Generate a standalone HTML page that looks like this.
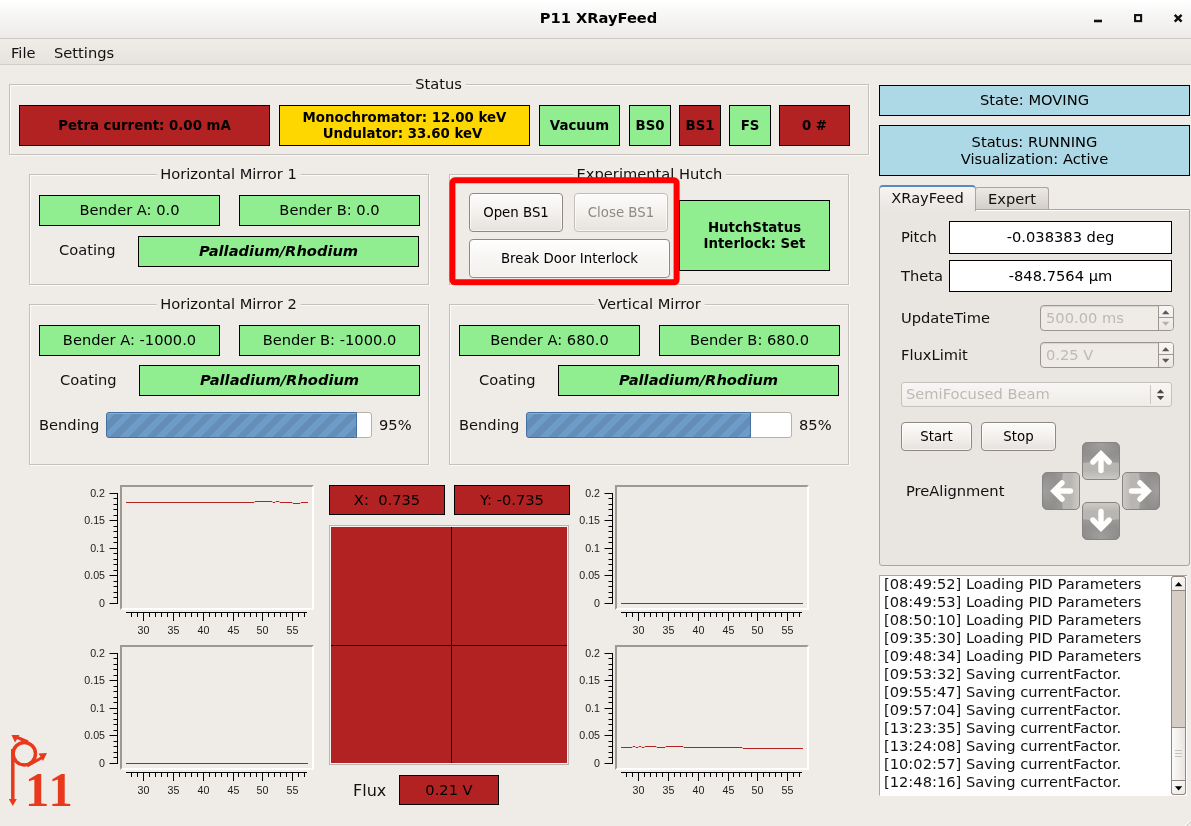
<!DOCTYPE html><html><head><meta charset='utf-8'><title>P11 XRayFeed</title><style>
*{box-sizing:border-box;margin:0;padding:0}
html,body{width:1191px;height:826px;overflow:hidden;background:#efebe7}
body{position:relative;font-family:"DejaVu Sans","Liberation Sans",sans-serif;font-size:14.67px;color:#111;}
.a{position:absolute}
.c{display:flex;align-items:center;justify-content:center;text-align:center;white-space:nowrap}
.box{position:absolute;border:1px solid #000;display:flex;align-items:center;justify-content:center;text-align:center;white-space:nowrap;color:#000;padding-bottom:2px}
.g{background:#90ee90}.r{background:#b22222}.y{background:#ffd700}.b{background:#add8e6}
.bold{font-weight:bold;font-size:13.33px;line-height:16px;padding-bottom:0}
.bi{font-weight:bold;font-style:italic}
.grp{position:absolute;border:1px solid #c4c0bb;box-shadow:inset 1px 1px 0 #fbfaf9, 1px 1px 0 #fbfaf9}
.gt{position:absolute;background:#efebe7;padding:0 4px;white-space:nowrap;line-height:18px;height:18px;transform:translateX(-50%)}
.lbl{position:absolute;white-space:nowrap;line-height:18px;height:18px}
.btn{position:absolute;color:#000;border:1px solid #8f8880;border-radius:4px;background:linear-gradient(#fdfcfb,#f3f0ed 50%,#e6e2de);display:flex;align-items:center;justify-content:center;font-size:13.33px;white-space:nowrap;box-shadow:inset 0 0 0 1px rgba(255,255,255,.6)}
.btn.dis{color:#8e8a85;border-color:#c3beb8}
.plot{position:absolute;border-style:solid;border-width:2px;border-color:#9c9995 #fff #fff #9c9995}
.log{position:absolute;white-space:pre;line-height:18px;font-size:14.67px}
</style></head><body>
<div class='a' style='left:0;top:0;width:1191px;height:39px;background:linear-gradient(#ffffff,#f6f5f4 45%,#edebe9);border-bottom:1px solid #cdc9c5'></div>
<div class='a c' style='left:0;top:0;width:1197px;height:34px;font-weight:bold;font-size:14.67px;color:#000'>P11 XRayFeed</div>
<svg class='a' style='left:1085px;top:5px' width='106' height='28' viewBox='1085 5 106 28'><rect x='1094' y='19.7' width='8' height='2.6' fill='#111'/><rect x='1135.1' y='15.1' width='6' height='6' fill='none' stroke='#111' stroke-width='2.1'/><path d='M1174.7 14.9L1181.6 21.6M1181.6 14.9L1174.7 21.6' stroke='#111' stroke-width='2.5' fill='none'/></svg>
<div class='a' style='left:0;top:39px;width:1191px;height:26px;background:linear-gradient(#f0ede9,#e6e2de);border-bottom:1px solid #d1cdc8'></div>
<div class='lbl' style='left:11px;top:44px'>File</div>
<div class='lbl' style='left:54px;top:44px'>Settings</div>
<div class='grp' style='left:9px;top:84px;width:860px;height:71px'></div>
<div class='gt' style='left:438.5px;top:75px'>Status</div>
<div class='grp' style='left:29px;top:174px;width:400px;height:111px'></div>
<div class='gt' style='left:228.5px;top:165px'>Horizontal Mirror 1</div>
<div class='grp' style='left:449px;top:174px;width:400px;height:111px'></div>
<div class='gt' style='left:649.5px;top:165px'>Experimental Hutch</div>
<div class='grp' style='left:29px;top:304px;width:400px;height:161px'></div>
<div class='gt' style='left:228.5px;top:295px'>Horizontal Mirror 2</div>
<div class='grp' style='left:449px;top:304px;width:400px;height:161px'></div>
<div class='gt' style='left:649.5px;top:295px'>Vertical Mirror</div>
<div class='box r bold' style='left:19px;top:105px;width:251px;height:41px;'><div>Petra current: 0.00 mA</div></div>
<div class='box y bold' style='left:279px;top:105px;width:251px;height:41px;'><div>Monochromator: 12.00 keV<br><span style='position:relative;left:-2px'>Undulator: 33.60 keV</span></div></div>
<div class='box g bold' style='left:539px;top:105px;width:81px;height:41px;'><div>Vacuum</div></div>
<div class='box g bold' style='left:629px;top:105px;width:42px;height:41px;'><div>BS0</div></div>
<div class='box r bold' style='left:679px;top:105px;width:42px;height:41px;'><div>BS1</div></div>
<div class='box g bold' style='left:729px;top:105px;width:42px;height:41px;'><div>FS</div></div>
<div class='box r bold' style='left:779px;top:105px;width:71px;height:41px;'><div>0 #</div></div>
<div class='box g' style='left:39px;top:195px;width:181px;height:31px;'><div>Bender A: 0.0</div></div>
<div class='box g' style='left:239px;top:195px;width:181px;height:31px;'><div>Bender B: 0.0</div></div>
<div class='lbl' style='left:59px;top:241px'>Coating</div>
<div class='box g bi' style='left:138px;top:236px;width:281px;height:31px;'><div>Palladium/Rhodium</div></div>
<div class='box g bold' style='left:679px;top:200px;width:151px;height:71px;'><div>HutchStatus<br>Interlock: Set</div></div>
<svg class='a' style='left:440px;top:170px' width='250' height='125' viewBox='440 170 250 125'><rect x='452.4' y='180.3' width='224.2' height='102' rx='2.5' fill='none' stroke='#ff0000' stroke-width='6'/></svg>
<div class='btn' style='left:469px;top:193px;width:94px;height:39px'>Open BS1</div>
<div class='btn dis' style='left:574px;top:193px;width:94px;height:39px'>Close BS1</div>
<div class='btn' style='left:469px;top:239px;width:201px;height:39px;background:linear-gradient(#fefefd,#f8f6f4 50%,#f3f0ed)'>Break Door Interlock</div>
<div class='box g' style='left:39px;top:325px;width:181px;height:31px;'><div>Bender A: -1000.0</div></div>
<div class='box g' style='left:239px;top:325px;width:181px;height:31px;'><div>Bender B: -1000.0</div></div>
<div class='lbl' style='left:60px;top:371px'>Coating</div>
<div class='box g bi' style='left:139px;top:365px;width:281px;height:31px;'><div>Palladium/Rhodium</div></div>
<div class='lbl' style='left:39px;top:416px'>Bending</div>
<div class='a' style='left:106px;top:412px;width:266px;height:26px;border:1px solid #b8b2aa;border-radius:3px;background:#fff'></div>
<div class='a' style='left:106px;top:412px;width:251px;height:26px;border:1px solid #44709f;border-radius:3px 0 0 3px;box-shadow:inset 0 1px 0 #86aed6;background:repeating-linear-gradient(135deg,#6d9cc9 0 6.36px,#648eb7 6.36px 12.73px)'></div>
<div class='lbl' style='left:379px;top:416px'>95%</div>
<div class='box g' style='left:459px;top:325px;width:181px;height:31px;'><div>Bender A: 680.0</div></div>
<div class='box g' style='left:659px;top:325px;width:181px;height:31px;'><div>Bender B: 680.0</div></div>
<div class='lbl' style='left:479px;top:371px'>Coating</div>
<div class='box g bi' style='left:558px;top:365px;width:281px;height:31px;'><div>Palladium/Rhodium</div></div>
<div class='lbl' style='left:459px;top:416px'>Bending</div>
<div class='a' style='left:526px;top:412px;width:266px;height:26px;border:1px solid #b8b2aa;border-radius:3px;background:#fff'></div>
<div class='a' style='left:526px;top:412px;width:225px;height:26px;border:1px solid #44709f;border-radius:3px 0 0 3px;box-shadow:inset 0 1px 0 #86aed6;background:repeating-linear-gradient(135deg,#6d9cc9 0 6.36px,#648eb7 6.36px 12.73px)'></div>
<div class='lbl' style='left:799px;top:416px'>85%</div>
<div class='box b' style='left:879px;top:85px;width:311px;height:31px;'><div>State: MOVING</div></div>
<div class='box b' style='left:879px;top:125px;width:311px;height:51px;line-height:17px'><div>Status: RUNNING<br>Visualization: Active</div></div>
<div class='a' style='left:879px;top:209px;width:311px;height:357px;border:1px solid #aaa59f;border-radius:0 0 3px 3px;background:#e9e5e1;box-shadow:inset 0 1px 0 #fff'></div>
<div class='a c' style='left:975px;top:187px;width:74px;height:22px;padding-bottom:1px;border:1px solid #aaa59f;border-bottom:none;border-radius:3px 3px 0 0;background:linear-gradient(#ece9e5,#d3cec8)'>Expert</div>
<div class='a c' style='left:879px;top:185px;width:97px;height:26px;padding-bottom:4px;border:1px solid #aaa59f;border-bottom:none;border-top:2px solid #5b89bd;border-radius:4px 4px 0 0;background:linear-gradient(#f6f4f2,#e9e5e1)'>XRayFeed</div>
<div class='lbl' style='left:901px;top:228px'>Pitch</div>
<div class='box ' style='left:949px;top:221px;width:223px;height:33px;background:#fff'><div>-0.038383 deg</div></div>
<div class='lbl' style='left:901px;top:267px'>Theta</div>
<div class='box ' style='left:949px;top:260px;width:223px;height:32px;background:#fff'><div>-848.7564 µm</div></div>
<div class='lbl' style='left:901px;top:309px'>UpdateTime</div>
<div class='lbl' style='left:901px;top:346px'>FluxLimit</div>
<div class='a' style='left:1040px;top:305px;width:134px;height:26px;border:1px solid #9c968e;border-radius:4px;background:#efebe7;color:#bdb9b4;padding-left:5px;line-height:24px;overflow:hidden;box-shadow:inset 0 1px 1px rgba(0,0,0,.10)'>500.00 ms<div style='position:absolute;right:0;top:0;width:15px;height:100%;border-left:1px solid #9c968e;background:linear-gradient(#f8f6f4,#ece8e4)'></div></div>
<svg class='a' style='left:1158px;top:305px' width='16' height='26' viewBox='0 0 16 26'><path d='M1 12.5H15' stroke='#9c968e' fill='none'/><path d='M4 9.2L7.7 5.2L11.4 9.2Z' fill='#5a5652'/><path d='M4 16.8L7.7 20.8L11.4 16.8Z' fill='#b5b1ac'/></svg>
<div class='a' style='left:1040px;top:342px;width:134px;height:26px;border:1px solid #9c968e;border-radius:4px;background:#efebe7;color:#bdb9b4;padding-left:5px;line-height:24px;overflow:hidden;box-shadow:inset 0 1px 1px rgba(0,0,0,.10)'>0.25 V<div style='position:absolute;right:0;top:0;width:15px;height:100%;border-left:1px solid #9c968e;background:linear-gradient(#f8f6f4,#ece8e4)'></div></div>
<svg class='a' style='left:1158px;top:342px' width='16' height='26' viewBox='0 0 16 26'><path d='M1 12.5H15' stroke='#9c968e' fill='none'/><path d='M4 9.2L7.7 5.2L11.4 9.2Z' fill='#5a5652'/><path d='M4 16.8L7.7 20.8L11.4 16.8Z' fill='#5a5652'/></svg>
<div class='a' style='left:901px;top:382px;width:271px;height:25px;border:1px solid #c6c1bb;border-radius:3px;background:linear-gradient(#f8f6f4,#efece8);color:#bdb9b4;padding-left:4px;line-height:21px'>SemiFocused Beam</div>
<svg class='a' style='left:1150px;top:382px' width='22' height='25' viewBox='0 0 22 25'><path d='M0.5 3V22' stroke='#cdc8c2' fill='none'/><path d='M6.8 11.2L10.5 7.3L14.2 11.2Z' fill='#4a4744'/><path d='M6.8 14L10.5 17.9L14.2 14Z' fill='#4a4744'/></svg>
<div class='btn' style='left:901px;top:422px;width:71px;height:29px'>Start</div>
<div class='btn' style='left:981px;top:422px;width:75px;height:29px'>Stop</div>
<div class='lbl' style='left:906px;top:482px'>PreAlignment</div>
<svg width='0' height='0' style='position:absolute'><defs><linearGradient id='agd' x1='0' y1='0' x2='0' y2='1'><stop offset='0' stop-color='#848280'/><stop offset='0.55' stop-color='#9c9a98'/></linearGradient><linearGradient id='agl' x1='0' y1='0' x2='0' y2='1'><stop offset='0.5' stop-color='#b8b6b3'/><stop offset='1' stop-color='#cecbc8'/></linearGradient><radialGradient id='agh' cx='0.5' cy='0.1' r='0.6'><stop offset='0' stop-color='#fff' stop-opacity='0.22'/><stop offset='1' stop-color='#fff' stop-opacity='0'/></radialGradient><clipPath id='acp'><rect x='0.5' y='0.5' width='37' height='37' rx='4.5'/></clipPath></defs></svg>
<svg class='a' style='left:1082px;top:442px' width='38' height='38' viewBox='0 0 38 38'><g transform='rotate(0 19 19)'><g clip-path='url(#acp)'><rect width='38' height='38' fill='url(#agd)'/><rect width='38' height='21' fill='url(#agh)'/><path d='M0 21Q19 18 38 21V38H0Z' fill='url(#agl)'/></g><rect x='0.5' y='0.5' width='37' height='37' rx='4.5' fill='none' stroke='#878583'/><path d='M19 28.5V13M10.9 20L19 11.9L27.1 20' stroke='#fffefc' stroke-width='5.4' fill='none' stroke-linecap='round' stroke-linejoin='miter'/></g></svg>
<svg class='a' style='left:1042px;top:472px' width='38' height='38' viewBox='0 0 38 38'><g transform='rotate(-90 19 19)'><g clip-path='url(#acp)'><rect width='38' height='38' fill='url(#agd)'/><rect width='38' height='21' fill='url(#agh)'/><path d='M0 21Q19 18 38 21V38H0Z' fill='url(#agl)'/></g><rect x='0.5' y='0.5' width='37' height='37' rx='4.5' fill='none' stroke='#878583'/><path d='M19 28.5V13M10.9 20L19 11.9L27.1 20' stroke='#fffefc' stroke-width='5.4' fill='none' stroke-linecap='round' stroke-linejoin='miter'/></g></svg>
<svg class='a' style='left:1122px;top:472px' width='38' height='38' viewBox='0 0 38 38'><g transform='rotate(90 19 19)'><g clip-path='url(#acp)'><rect width='38' height='38' fill='url(#agd)'/><rect width='38' height='21' fill='url(#agh)'/><path d='M0 21Q19 18 38 21V38H0Z' fill='url(#agl)'/></g><rect x='0.5' y='0.5' width='37' height='37' rx='4.5' fill='none' stroke='#878583'/><path d='M19 28.5V13M10.9 20L19 11.9L27.1 20' stroke='#fffefc' stroke-width='5.4' fill='none' stroke-linecap='round' stroke-linejoin='miter'/></g></svg>
<svg class='a' style='left:1082px;top:502px' width='38' height='38' viewBox='0 0 38 38'><g transform='rotate(180 19 19)'><g clip-path='url(#acp)'><rect width='38' height='38' fill='url(#agd)'/><rect width='38' height='21' fill='url(#agh)'/><path d='M0 21Q19 18 38 21V38H0Z' fill='url(#agl)'/></g><rect x='0.5' y='0.5' width='37' height='37' rx='4.5' fill='none' stroke='#878583'/><path d='M19 28.5V13M10.9 20L19 11.9L27.1 20' stroke='#fffefc' stroke-width='5.4' fill='none' stroke-linecap='round' stroke-linejoin='miter'/></g></svg>
<div class='a' style='left:879px;top:575px;width:308px;height:221px;background:#fff;border:1px solid #aaa59f;border-bottom-color:#fff;border-right:none'></div>
<div class='log' style='left:884px;top:575px'>[08:49:52] Loading PID Parameters
[08:49:53] Loading PID Parameters
[08:50:10] Loading PID Parameters
[09:35:30] Loading PID Parameters
[09:48:34] Loading PID Parameters
[09:53:32] Saving currentFactor.
[09:55:47] Saving currentFactor.
[09:57:04] Saving currentFactor.
[13:23:35] Saving currentFactor.
[13:24:08] Saving currentFactor.
[10:02:57] Saving currentFactor.
[12:48:16] Saving currentFactor.</div>
<div class='a' style='left:1171px;top:576px;width:15px;height:219px;background:#d6cec5;border:1px solid #8f8880;border-radius:3px'></div>
<div class='a' style='left:1171px;top:576px;width:15px;height:15px;border:1px solid #8f8880;border-radius:3px 3px 0 0;background:linear-gradient(135deg,#fdfcfb,#ece9e5)'></div>
<div class='a' style='left:1171px;top:780px;width:15px;height:15px;border:1px solid #8f8880;border-radius:0 0 3px 3px;background:linear-gradient(135deg,#fdfcfb,#ece9e5)'></div>
<div class='a' style='left:1171px;top:727px;width:15px;height:54px;border:1px solid #8f8880;background:linear-gradient(90deg,#fbfaf9,#e9e5e1)'></div>
<svg class='a' style='left:1171px;top:576px' width='15' height='219' viewBox='0 0 15 219'><path d='M3.9 10.2L7.6 6L11.3 10.2Z' fill='#000'/><path d='M3.9 210.2L7.6 214.4L11.3 210.2Z' fill='#000'/><path d='M4 174.5H11M4 177.5H11M4 180.5H11' stroke='#c9c2ba'/></svg>
<div class='box r' style='left:329px;top:485px;width:116px;height:30px;'><div>X:&nbsp; 0.735</div></div>
<div class='box r' style='left:454px;top:485px;width:116px;height:30px;'><div>Y: -0.735</div></div>
<div class='a' style='left:329px;top:525px;width:240px;height:240px;border:1px solid #b9b5b0;background:#f5f3f0'></div>
<div class='a r' style='left:331px;top:527px;width:236px;height:236px'></div>
<div class='a' style='left:451px;top:527px;width:1px;height:236px;background:#000'></div>
<div class='a' style='left:331px;top:645px;width:236px;height:1px;background:#000'></div>
<div class='lbl' style='left:353px;top:781px;font-size:16px;line-height:20px;height:20px'>Flux</div>
<div class='box r' style='left:399px;top:775px;width:100px;height:30px;'><div>0.21 V</div></div>
<div class='plot' style='left:120px;top:485px;width:194px;height:125px'></div>
<svg class='a' style='left:70px;top:480px' width='250' height='160' viewBox='0 0 250 160' font-family='"Liberation Sans",sans-serif' font-size='10.67' fill='#1c1c1c'><path d='M47.5 13.0V124.0' stroke='#000' fill='none'/><path d='M39.5 123.5H47.5M43.5 117.5H47.5M43.5 112.5H47.5M43.5 106.5H47.5M43.5 101.5H47.5M39.5 95.5H47.5M43.5 90.5H47.5M43.5 84.5H47.5M43.5 79.5H47.5M43.5 73.5H47.5M39.5 68.5H47.5M43.5 62.5H47.5M43.5 57.5H47.5M43.5 51.5H47.5M43.5 46.5H47.5M39.5 40.5H47.5M43.5 35.5H47.5M43.5 29.5H47.5M43.5 24.5H47.5M43.5 18.5H47.5M39.5 13.5H47.5' stroke='#000' fill='none'/><text x='35' y='127.3' text-anchor='end'>0</text><text x='35' y='99.3' text-anchor='end'>0.05</text><text x='35' y='72.3' text-anchor='end'>0.1</text><text x='35' y='44.3' text-anchor='end'>0.15</text><text x='35' y='17.3' text-anchor='end'>0.2</text><path d='M56 132.5H237' stroke='#000' fill='none'/><path d='M61.5 132.5V137.0M67.5 132.5V137.0M73.5 132.5V141.0M79.5 132.5V137.0M85.5 132.5V137.0M91.5 132.5V137.0M97.5 132.5V137.0M103.5 132.5V141.0M109.5 132.5V137.0M115.5 132.5V137.0M121.5 132.5V137.0M127.5 132.5V137.0M133.5 132.5V141.0M139.5 132.5V137.0M145.5 132.5V137.0M151.5 132.5V137.0M157.5 132.5V137.0M163.5 132.5V141.0M168.5 132.5V137.0M174.5 132.5V137.0M180.5 132.5V137.0M186.5 132.5V137.0M192.5 132.5V141.0M198.5 132.5V137.0M204.5 132.5V137.0M210.5 132.5V137.0M216.5 132.5V137.0M222.5 132.5V141.0M228.5 132.5V137.0M234.5 132.5V137.0' stroke='#000' fill='none'/><text x='73.5' y='153.8' text-anchor='middle'>30</text><text x='103.5' y='153.8' text-anchor='middle'>35</text><text x='133.5' y='153.8' text-anchor='middle'>40</text><text x='163.5' y='153.8' text-anchor='middle'>45</text><text x='192.5' y='153.8' text-anchor='middle'>50</text><text x='222.5' y='153.8' text-anchor='middle'>55</text><path d='M56 22.5H184L185 21.5H202L203 22.5H205L206 21.5H209L210 22.5H222L223 23.5H230L231 22.5H238' stroke='#b22222' fill='none' stroke-width='1'/></svg>
<div class='plot' style='left:120px;top:645px;width:194px;height:125px'></div>
<svg class='a' style='left:70px;top:640px' width='250' height='160' viewBox='0 0 250 160' font-family='"Liberation Sans",sans-serif' font-size='10.67' fill='#1c1c1c'><path d='M47.5 13.0V124.0' stroke='#000' fill='none'/><path d='M39.5 123.5H47.5M43.5 117.5H47.5M43.5 112.5H47.5M43.5 106.5H47.5M43.5 101.5H47.5M39.5 95.5H47.5M43.5 90.5H47.5M43.5 84.5H47.5M43.5 79.5H47.5M43.5 73.5H47.5M39.5 68.5H47.5M43.5 62.5H47.5M43.5 57.5H47.5M43.5 51.5H47.5M43.5 46.5H47.5M39.5 40.5H47.5M43.5 35.5H47.5M43.5 29.5H47.5M43.5 24.5H47.5M43.5 18.5H47.5M39.5 13.5H47.5' stroke='#000' fill='none'/><text x='35' y='127.3' text-anchor='end'>0</text><text x='35' y='99.3' text-anchor='end'>0.05</text><text x='35' y='72.3' text-anchor='end'>0.1</text><text x='35' y='44.3' text-anchor='end'>0.15</text><text x='35' y='17.3' text-anchor='end'>0.2</text><path d='M56 132.5H237' stroke='#000' fill='none'/><path d='M61.5 132.5V137.0M67.5 132.5V137.0M73.5 132.5V141.0M79.5 132.5V137.0M85.5 132.5V137.0M91.5 132.5V137.0M97.5 132.5V137.0M103.5 132.5V141.0M109.5 132.5V137.0M115.5 132.5V137.0M121.5 132.5V137.0M127.5 132.5V137.0M133.5 132.5V141.0M139.5 132.5V137.0M145.5 132.5V137.0M151.5 132.5V137.0M157.5 132.5V137.0M163.5 132.5V141.0M168.5 132.5V137.0M174.5 132.5V137.0M180.5 132.5V137.0M186.5 132.5V137.0M192.5 132.5V141.0M198.5 132.5V137.0M204.5 132.5V137.0M210.5 132.5V137.0M216.5 132.5V137.0M222.5 132.5V141.0M228.5 132.5V137.0M234.5 132.5V137.0' stroke='#000' fill='none'/><text x='73.5' y='153.8' text-anchor='middle'>30</text><text x='103.5' y='153.8' text-anchor='middle'>35</text><text x='133.5' y='153.8' text-anchor='middle'>40</text><text x='163.5' y='153.8' text-anchor='middle'>45</text><text x='192.5' y='153.8' text-anchor='middle'>50</text><text x='222.5' y='153.8' text-anchor='middle'>55</text><path d='M56 123.5H238' stroke='#b22222' fill='none' stroke-width='1'/></svg>
<div class='plot' style='left:615px;top:485px;width:194px;height:125px'></div>
<svg class='a' style='left:565px;top:480px' width='250' height='160' viewBox='0 0 250 160' font-family='"Liberation Sans",sans-serif' font-size='10.67' fill='#1c1c1c'><path d='M47.5 13.0V124.0' stroke='#000' fill='none'/><path d='M39.5 123.5H47.5M43.5 117.5H47.5M43.5 112.5H47.5M43.5 106.5H47.5M43.5 101.5H47.5M39.5 95.5H47.5M43.5 90.5H47.5M43.5 84.5H47.5M43.5 79.5H47.5M43.5 73.5H47.5M39.5 68.5H47.5M43.5 62.5H47.5M43.5 57.5H47.5M43.5 51.5H47.5M43.5 46.5H47.5M39.5 40.5H47.5M43.5 35.5H47.5M43.5 29.5H47.5M43.5 24.5H47.5M43.5 18.5H47.5M39.5 13.5H47.5' stroke='#000' fill='none'/><text x='35' y='127.3' text-anchor='end'>0</text><text x='35' y='99.3' text-anchor='end'>0.05</text><text x='35' y='72.3' text-anchor='end'>0.1</text><text x='35' y='44.3' text-anchor='end'>0.15</text><text x='35' y='17.3' text-anchor='end'>0.2</text><path d='M56 132.5H237' stroke='#000' fill='none'/><path d='M61.5 132.5V137.0M67.5 132.5V137.0M73.5 132.5V141.0M79.5 132.5V137.0M85.5 132.5V137.0M91.5 132.5V137.0M97.5 132.5V137.0M103.5 132.5V141.0M109.5 132.5V137.0M115.5 132.5V137.0M121.5 132.5V137.0M127.5 132.5V137.0M133.5 132.5V141.0M139.5 132.5V137.0M145.5 132.5V137.0M151.5 132.5V137.0M157.5 132.5V137.0M163.5 132.5V141.0M168.5 132.5V137.0M174.5 132.5V137.0M180.5 132.5V137.0M186.5 132.5V137.0M192.5 132.5V141.0M198.5 132.5V137.0M204.5 132.5V137.0M210.5 132.5V137.0M216.5 132.5V137.0M222.5 132.5V141.0M228.5 132.5V137.0M234.5 132.5V137.0' stroke='#000' fill='none'/><text x='73.5' y='153.8' text-anchor='middle'>30</text><text x='103.5' y='153.8' text-anchor='middle'>35</text><text x='133.5' y='153.8' text-anchor='middle'>40</text><text x='163.5' y='153.8' text-anchor='middle'>45</text><text x='192.5' y='153.8' text-anchor='middle'>50</text><text x='222.5' y='153.8' text-anchor='middle'>55</text><path d='M56 123.5H238' stroke='#b22222' fill='none' stroke-width='1'/></svg>
<div class='plot' style='left:615px;top:645px;width:194px;height:125px'></div>
<svg class='a' style='left:565px;top:640px' width='250' height='160' viewBox='0 0 250 160' font-family='"Liberation Sans",sans-serif' font-size='10.67' fill='#1c1c1c'><path d='M47.5 13.0V124.0' stroke='#000' fill='none'/><path d='M39.5 123.5H47.5M43.5 117.5H47.5M43.5 112.5H47.5M43.5 106.5H47.5M43.5 101.5H47.5M39.5 95.5H47.5M43.5 90.5H47.5M43.5 84.5H47.5M43.5 79.5H47.5M43.5 73.5H47.5M39.5 68.5H47.5M43.5 62.5H47.5M43.5 57.5H47.5M43.5 51.5H47.5M43.5 46.5H47.5M39.5 40.5H47.5M43.5 35.5H47.5M43.5 29.5H47.5M43.5 24.5H47.5M43.5 18.5H47.5M39.5 13.5H47.5' stroke='#000' fill='none'/><text x='35' y='127.3' text-anchor='end'>0</text><text x='35' y='99.3' text-anchor='end'>0.05</text><text x='35' y='72.3' text-anchor='end'>0.1</text><text x='35' y='44.3' text-anchor='end'>0.15</text><text x='35' y='17.3' text-anchor='end'>0.2</text><path d='M56 132.5H237' stroke='#000' fill='none'/><path d='M61.5 132.5V137.0M67.5 132.5V137.0M73.5 132.5V141.0M79.5 132.5V137.0M85.5 132.5V137.0M91.5 132.5V137.0M97.5 132.5V137.0M103.5 132.5V141.0M109.5 132.5V137.0M115.5 132.5V137.0M121.5 132.5V137.0M127.5 132.5V137.0M133.5 132.5V141.0M139.5 132.5V137.0M145.5 132.5V137.0M151.5 132.5V137.0M157.5 132.5V137.0M163.5 132.5V141.0M168.5 132.5V137.0M174.5 132.5V137.0M180.5 132.5V137.0M186.5 132.5V137.0M192.5 132.5V141.0M198.5 132.5V137.0M204.5 132.5V137.0M210.5 132.5V137.0M216.5 132.5V137.0M222.5 132.5V141.0M228.5 132.5V137.0M234.5 132.5V137.0' stroke='#000' fill='none'/><text x='73.5' y='153.8' text-anchor='middle'>30</text><text x='103.5' y='153.8' text-anchor='middle'>35</text><text x='133.5' y='153.8' text-anchor='middle'>40</text><text x='163.5' y='153.8' text-anchor='middle'>45</text><text x='192.5' y='153.8' text-anchor='middle'>50</text><text x='222.5' y='153.8' text-anchor='middle'>55</text><path d='M56 107.5H67L68 106.5H70L71 107.5H73L74 106.5H76L77 107.5H79L80 106.5H91L92 107.5H100L101 106.5H118L119 107.5H177L178 108.5H238' stroke='#b22222' fill='none' stroke-width='1'/></svg>
<svg class='a' style='left:0;top:725px' width='100' height='95' viewBox='0 725 100 95'><g stroke='#e8391c' stroke-width='3.5' fill='none'><path d='M12.8 749V801'/><circle cx='24.3' cy='753.7' r='11.2'/><path d='M28 742L15 736.5' stroke-width='3'/><path d='M27 766L43 757' stroke-width='3'/></g><g fill='#e8391c'><path d='M8.8 799H16.8L12.8 806Z'/><path d='M11.5 735L19.5 735L15 742.5Z'/><path d='M47 753L38.5 753.5L43 761Z'/></g><text x='25' y='805.7' font-family='"Liberation Serif",serif' font-weight='bold' font-size='48.5' letter-spacing='-0.75' style='font-kerning:none' fill='#e8391c'>11</text></svg>
<svg class='a' style='left:1175px;top:810px' width='16' height='16' viewBox='1175 810 16 16'><path d='M1191.5 819.5L1185 826' stroke='#fff' fill='none'/><path d='M1191.5 821L1186.5 826' stroke='#c4c0bb' fill='none'/></svg>
</body></html>
